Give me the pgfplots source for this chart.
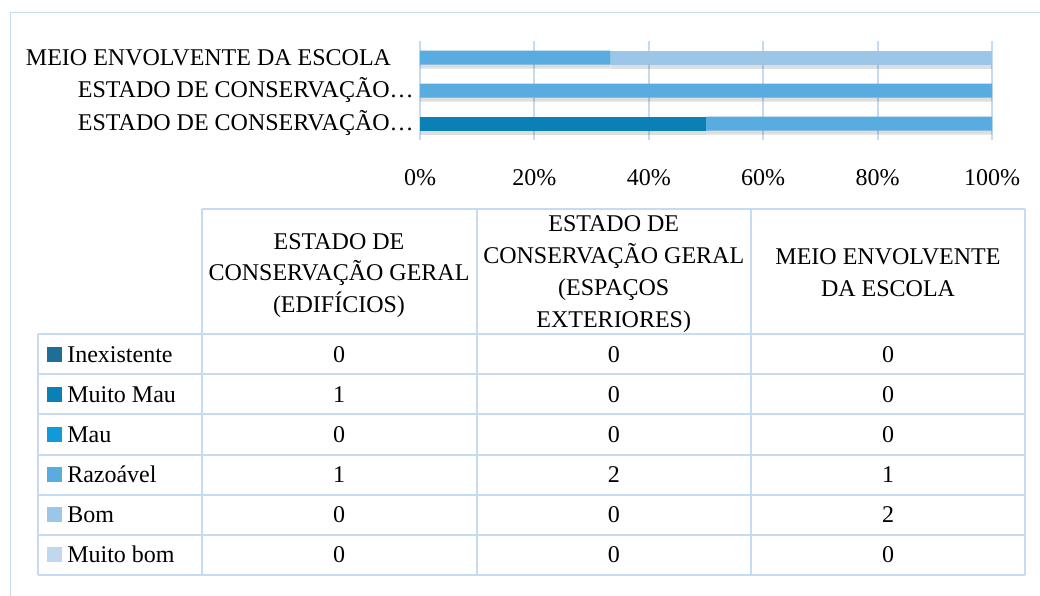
\documentclass[border=0pt]{standalone}
\usepackage{fontspec}
\setmainfont{Liberation Serif}
\usepackage{pgfplots}
\pgfplotsset{compat=1.18}
\definecolor{cInex}{HTML}{1F6E98}
\definecolor{cMMau}{HTML}{0A80B6}
\definecolor{cMau}{HTML}{0E9BD8}
\definecolor{cRaz}{HTML}{58ACDF}
\definecolor{cBom}{HTML}{9CC6E8}
\definecolor{cMBom}{HTML}{C0D7EE}
\definecolor{gridc}{HTML}{C6DBF1}
\newcommand{\ff}{\fontsize{18pt}{24pt}\selectfont}
\begin{document}
\ff
\begin{tikzpicture}[font=\ff]
\begin{scope}[x=0.75pt,y=-0.75pt]
\path[use as bounding box] (0,0) rectangle (1040,596);
\fill[white] (0,0) rectangle (1040,596);
\draw[gridc, line width=0.75pt] (10,600) -- (10,12) -- (1045,12);
\end{scope}
\begin{axis}[
  at={(315pt,-105pt)}, anchor=south west,
  scale only axis, width=429pt, height=74.25pt,
  xbar stacked, bar width=10.5pt,
  xmin=0, xmax=100, ymin=-0.5, ymax=2.5,
  xtick={0,20,40,60,80,100},
  xticklabels={0\%,20\%,40\%,60\%,80\%,100\%},
  ytick={0,1,2},
  yticklabels={ESTADO DE CONSERVAÇÃO…,ESTADO DE CONSERVAÇÃO…,MEIO ENVOLVENTE DA ESCOLA\hspace*{17pt}},
  axis line style={draw=none}, major tick length=0pt,
  xmajorgrids, grid style={gridc, line width=1.5pt},
  tick label style={font=\ff},
  xticklabel style={inner sep=0pt, anchor=north, yshift=-22pt},
  yticklabel style={inner sep=0pt, anchor=east, xshift=-4.5pt},
  every axis plot/.append style={draw=none, preaction={fill=black, opacity=0.13, transform canvas={yshift=-3pt}}},
  clip=false,
]
\addplot[fill=cInex] coordinates {(0,0) (0,1) (0,2)};
\addplot[fill=cMMau] coordinates {(50,0) (0,1) (0,2)};
\addplot[fill=cMau] coordinates {(0,0) (0,1) (0,2)};
\addplot[fill=cRaz] coordinates {(50,0) (100,1) (33.33,2)};
\addplot[fill=cBom] coordinates {(0,0) (0,1) (66.67,2)};
\addplot[fill=cMBom] coordinates {(0,0) (0,1) (0,2)};
\end{axis}
\begin{scope}[x=0.75pt,y=-0.75pt]
% table grid
\draw[gridc, line width=1.5pt] (202,209) -- (1025,209);
\foreach \yy in {334,374.2,414.4,454.6,494.8,535,575} {\draw[gridc, line width=1.5pt] (38,\yy) -- (1025,\yy);}
\foreach \xx in {202,476.5,751,1025} {\draw[gridc, line width=1.5pt] (\xx,209) -- (\xx,575);}
\draw[gridc, line width=1.5pt] (38,334) -- (38,575);
% headers
\node[anchor=base, inner sep=0pt] at (339,249) {ESTADO DE};
\node[anchor=base, inner sep=0pt] at (339,280.5) {CONSERVAÇÃO GERAL};
\node[anchor=base, inner sep=0pt] at (339,312) {(EDIFÍCIOS)};
\node[anchor=base, inner sep=0pt] at (613.75,231) {ESTADO DE};
\node[anchor=base, inner sep=0pt] at (613.75,263) {CONSERVAÇÃO GERAL};
\node[anchor=base, inner sep=0pt] at (613.75,295) {(ESPAÇOS};
\node[anchor=base, inner sep=0pt] at (613.75,327) {EXTERIORES)};
\node[anchor=base, inner sep=0pt] at (888,264) {MEIO ENVOLVENTE};
\node[anchor=base, inner sep=0pt] at (888,296) {DA ESCOLA};
% rows
\foreach \c/\lab/\a/\b/\d [count=\i from 0] in {cInex/Inexistente/0/0/0, cMMau/Muito Mau/1/0/0, cMau/Mau/0/0/0, cRaz/Razoável/1/2/1, cBom/Bom/0/0/2, cMBom/Muito bom/0/0/0} {
  \pgfmathsetmacro{\yc}{354+40.17*\i}
  \fill[\c] (47,\yc-7.5) rectangle (62,\yc+7.5);
  \node[anchor=base west, inner sep=0pt] at (67,\yc+8) {\lab};
  \node[anchor=base, inner sep=0pt] at (339,\yc+8) {\a};
  \node[anchor=base, inner sep=0pt] at (613.75,\yc+8) {\b};
  \node[anchor=base, inner sep=0pt] at (888,\yc+8) {\d};
}
\end{scope}
\end{tikzpicture}
\end{document}
